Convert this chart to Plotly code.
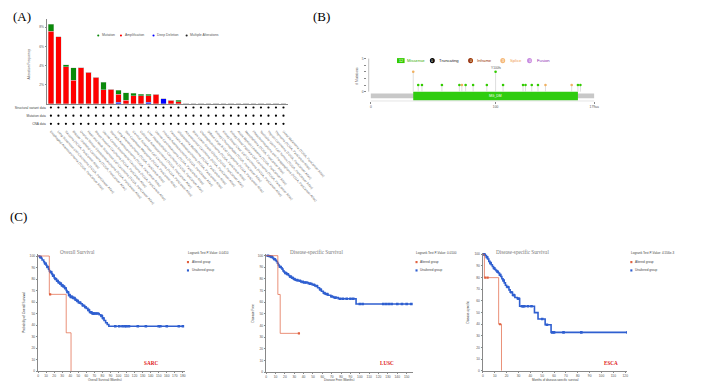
import numpy as np
import plotly.graph_objects as go

W, H = 709, 381
def xd(a, b): return [a / W, b / W]
def yd(top, bot): return [1 - bot / H, 1 - top / H]
def px(x): return x / W
def py(y): return 1 - y / H

# ---------------- Panel A data ----------------
studies = [
    "Esophageal Adenocarcinoma (TCGA, PanCancer Atlas)",
    "Lung Squamous Cell Carcinoma (TCGA, PanCancer Atlas)",
    "Sarcoma (TCGA, PanCancer Atlas)",
    "Bladder Urothelial Carcinoma (TCGA, PanCancer Atlas)",
    "Ovarian Serous Cystadenocarcinoma (TCGA, PanCancer Atlas)",
    "Head and Neck Squamous Cell Carcinoma (TCGA, PanCancer Atlas)",
    "Breast Invasive Carcinoma (TCGA, PanCancer Atlas)",
    "Uterine Corpus Endometrial Carcinoma (TCGA, PanCancer Atlas)",
    "Stomach Adenocarcinoma (TCGA, PanCancer Atlas)",
    "Lung Adenocarcinoma (TCGA, PanCancer Atlas)",
    "Skin Cutaneous Melanoma (TCGA, PanCancer Atlas)",
    "Cervical Squamous Cell Carcinoma (TCGA, PanCancer Atlas)",
    "Colorectal Adenocarcinoma (TCGA, PanCancer Atlas)",
    "Liver Hepatocellular Carcinoma (TCGA, PanCancer Atlas)",
    "Uterine Carcinosarcoma (TCGA, PanCancer Atlas)",
    "Prostate Adenocarcinoma (TCGA, PanCancer Atlas)",
    "Pancreatic Adenocarcinoma (TCGA, PanCancer Atlas)",
    "Glioblastoma Multiforme (TCGA, PanCancer Atlas)",
    "Adrenocortical Carcinoma (TCGA, PanCancer Atlas)",
    "Brain Lower Grade Glioma (TCGA, PanCancer Atlas)",
    "Cholangiocarcinoma (TCGA, PanCancer Atlas)",
    "Diffuse Large B-Cell Lymphoma (TCGA, PanCancer Atlas)",
    "Kidney Chromophobe (TCGA, PanCancer Atlas)",
    "Kidney Renal Clear Cell Carcinoma (TCGA, PanCancer Atlas)",
    "Kidney Renal Papillary Cell Carcinoma (TCGA, PanCancer Atlas)",
    "Acute Myeloid Leukemia (TCGA, PanCancer Atlas)",
    "Mesothelioma (TCGA, PanCancer Atlas)",
    "Pheochromocytoma and Paraganglioma (TCGA, PanCancer Atlas)",
    "Testicular Germ Cell Tumors (TCGA, PanCancer Atlas)",
    "Thyroid Carcinoma (TCGA, PanCancer Atlas)",
    "Thymoma (TCGA, PanCancer Atlas)",
    "Uveal Melanoma (TCGA, PanCancer Atlas)",
]
deep_deletion = [0, 0, 0, 0, 0, 0, 0, 0, 0, 0.2, 0, 0, 0, 0.2, 0, 0.52, 0, 0] + [0] * 14
amplification = [7.59, 7.0, 3.86, 2.48, 3.76, 3.28, 2.76, 1.48, 1.52, 0.83, 0.41, 0.86, 0.83, 0.63, 1.0, 0, 0.38, 0.24] + [0] * 14
mutation = [0.71, 0, 0.24, 1.28, 0, 0, 0, 0.76, 0, 0.38, 0.76, 0.24, 0.17, 0.17, 0, 0, 0, 0.14] + [0] * 14
data_rows = ["Structural variant data", "Mutation data", "CNA data"]

# ---------------- Panel B data ----------------
protein_length = 179
domain_name = "MG_DM"
domain_start, domain_end = 34, 166
mut_pos = [34, 38, 41, 57, 71, 73, 76, 82, 93, 100, 106, 122, 124, 129, 134, 140, 161, 166, 168]
mut_cnt = [3, 1, 1, 1, 1, 1, 1, 1, 1, 3, 1, 1, 1, 1, 1, 1, 1, 1, 1]
mut_type = ["Splice", "Missense", "Missense", "Missense", "Missense", "Splice", "Missense",
            "Missense", "Missense", "Missense", "Missense", "Missense", "Missense", "Missense",
            "Missense", "Splice", "Splice", "Missense", "Missense"]
top_label = "Y100fs"
legend_b = [("12", "Missense"), ("0", "Truncating"), ("0", "Inframe"), ("3", "Splice"), ("0", "Fusion")]

# ---------------- Panel C data ----------------
sarc_unalt_t = [0, 2, 4, 5, 7, 8, 10, 11, 13, 14, 15, 17, 18, 20, 21, 23, 25, 27, 29, 31, 33, 35, 36,
                38, 40, 43, 46, 48, 50, 53, 55, 58, 60, 62, 64, 67, 76, 78, 80, 82, 84, 86, 88]
sarc_unalt_s = [100, 99, 98, 96.5, 95, 93.5, 92, 90.5, 88.5, 87, 86, 84.5, 83, 81, 80, 78.5, 77, 76,
                74.5, 73.5, 72, 70, 68.5, 66, 64.5, 63.5, 62, 61, 59.5, 58.5, 57, 55.5, 54.5, 53, 51,
                50, 49, 48, 46, 44, 42, 40.5, 39]
sarc_unalt_cens = [3, 9, 12, 16, 19, 22, 24, 26, 28, 30, 32, 34, 37, 39, 41, 42, 44, 45, 47, 49, 52,
                   56, 59, 63, 66, 68, 69, 70, 72, 74, 79, 81, 96, 101, 105, 108, 110, 113, 124, 134,
                   150, 152, 160, 175, 180]
sarc_alt_t = [0, 14, 35, 41]
sarc_alt_s = [100, 66.7, 33.3, 0]
sarc_alt_cens = [15]

lusc_unalt_t = [0, 3, 5, 7, 8, 10, 11, 12, 13, 14, 16, 17, 18, 19, 20, 22, 24, 25, 27, 29, 31, 34,
                37, 40, 45, 49, 52, 55, 57, 59, 61, 63, 66, 69, 72, 77, 96]
lusc_unalt_s = [100, 99.5, 99, 98, 97, 96, 95, 93.5, 92, 90.5, 89.5, 88.5, 87, 86, 85, 84, 83, 82,
                81, 80, 79, 78.5, 77.5, 77, 76, 75, 74, 72.5, 71, 69.5, 68, 67, 66, 65, 64, 63, 58.5]
lusc_unalt_cens = [2, 4, 6, 9, 15, 21, 23, 26, 28, 30, 33, 36, 39, 41, 43, 47, 51, 54, 58, 62, 65,
                   70, 74, 79, 82, 86, 90, 93, 100, 103, 125, 128, 131, 134, 140, 145, 150, 155]
lusc_alt_t = [0, 12.5, 15]
lusc_alt_s = [100, 66.7, 33.3]
lusc_alt_cens = [35]

esca_unalt_t = [0, 2, 3, 4, 5, 6, 7, 8, 9, 10, 11, 12, 13, 14, 15, 16, 17, 18, 19, 20, 22, 23, 25,
                27, 29, 31, 43.5, 46.5, 52.5, 57.5]
esca_unalt_s = [100, 99, 97.5, 96, 94, 92.5, 91, 89.5, 88, 87, 86, 85, 84, 82.5, 81, 79, 77.5, 75.5,
                73.5, 72, 69.5, 67.5, 65, 63, 62, 55.5, 50, 44.5, 39.5, 33]
esca_unalt_cens = [1, 3.5, 6.5, 9.5, 12.5, 14.5, 17.5, 21, 24, 26, 30, 33, 34, 35, 38, 41, 50, 54,
                   58.5, 60, 68, 83, 122]
esca_alt_t = [0, 1.3, 13.3, 15.7]
esca_alt_s = [100, 80, 40, 0]
esca_alt_cens = [2, 4, 14.5]

# ---------------- figure ----------------
GREEN, RED, BLUE = "#0a8a0a", "#ff0000", "#0000ff"
KM_BLUE, KM_RED = "#2f5fd0", "#e0603e"
TICK = dict(size=3.3, color="#555", family="Arial")
fig = go.Figure()

idx = list(range(len(studies)))
for vals, col in [(deep_deletion, BLUE), (amplification, RED), (mutation, GREEN)]:
    fig.add_trace(go.Bar(x=idx, y=vals, width=0.76, marker=dict(color=col, line=dict(color="#d0d0d0", width=0.4)),
                         xaxis="x", yaxis="y"))
for r in range(len(data_rows)):
    fig.add_trace(go.Scatter(x=idx, y=[r + 1] * len(idx), mode="markers",
                             marker=dict(color="black", size=2.2), xaxis="x2", yaxis="y2"))

# Panel B traces
stem_x, stem_y = [], []
for p, c in zip(mut_pos, mut_cnt):
    stem_x += [p, p, None]
    stem_y += [0, c, None]
fig.add_trace(go.Scatter(x=stem_x, y=stem_y, mode="lines", line=dict(color="#c8c8c8", width=0.6),
                         xaxis="x3", yaxis="y3"))
tcol = {"Missense": "#33cc00", "Splice": "#f0b060", "Truncating": "#000000", "Inframe": "#993404", "Fusion": "#c080e0"}
fig.add_trace(go.Scatter(x=mut_pos, y=mut_cnt, mode="markers",
                         marker=dict(color=[tcol[t] for t in mut_type], size=2.6),
                         xaxis="x3", yaxis="y3"))

def step_val(ts, ss, t):
    i = np.searchsorted(np.array(ts), t, side="right") - 1
    return ss[i]

def km(ts, ss, cens, tend, color, width, ax, msize, sym):
    xs = list(ts) + [tend]
    ys = list(ss) + [ss[-1]]
    fig.add_trace(go.Scatter(x=xs, y=ys, mode="lines", line=dict(color=color, width=width, shape="hv"),
                             xaxis="x" + ax, yaxis="y" + ax))
    fig.add_trace(go.Scatter(x=cens, y=[step_val(ts, ss, c) for c in cens], mode="markers",
                             marker=dict(color=color, size=msize, symbol=sym),
                             xaxis="x" + ax, yaxis="y" + ax))

km(sarc_unalt_t, sarc_unalt_s, sarc_unalt_cens, 180, KM_BLUE, 1.6, "4", 2.6, "square")
km(sarc_alt_t, sarc_alt_s, sarc_alt_cens, 41, KM_RED, 0.7, "4", 2.2, "square")
km(lusc_unalt_t, lusc_unalt_s, lusc_unalt_cens, 156, KM_BLUE, 1.6, "5", 2.6, "square")
km(lusc_alt_t, lusc_alt_s, lusc_alt_cens, 35, KM_RED, 0.7, "5", 2.2, "square")
km(esca_unalt_t, esca_unalt_s, esca_unalt_cens, 122, KM_BLUE, 1.6, "6", 2.6, "square")
km(esca_alt_t, esca_alt_s, esca_alt_cens, 15.7, KM_RED, 0.7, "6", 2.2, "square")

AX = dict(showgrid=False, zeroline=False, tickfont=TICK, linecolor="#888", linewidth=0.6,
          tickcolor="#888", ticklen=1.5, tickwidth=0.5)

layout = dict(
    width=W, height=H, margin=dict(l=0, r=0, t=0, b=0), showlegend=False,
    paper_bgcolor="white", plot_bgcolor="rgba(0,0,0,0)", barmode="stack",
    font=dict(family="Arial"),
    xaxis=dict(AX, domain=xd(40, 295), range=[-0.54, 31.63], anchor="y", showticklabels=False,
               showline=True, ticks=""),
    yaxis=dict(AX, domain=yd(10, 95.7), range=[0, 8.86], anchor="x", tickvals=[2, 4, 6, 8],
               ticktext=["2%", "4%", "6%", "8%"], showline=True, ticks="outside"),
    xaxis2=dict(AX, domain=xd(40, 295), range=[-0.54, 31.63], anchor="y2", tickvals=idx, ticktext=studies,
                tickangle=48, showline=False, ticks="", tickfont=dict(size=3.2, color="#666", family="Arial")),
    yaxis2=dict(AX, domain=yd(95, 120), range=[3.52, 0.476], anchor="x2", tickvals=[1, 2, 3],
                ticktext=data_rows, showline=False, ticks="", tickfont=dict(size=3.2, color="#444", family="Arial")),
    xaxis3=dict(AX, domain=xd(378, 625), range=[-3.26, 184.1], anchor="y3", tickvals=[0, 100, 179],
                ticktext=["0", "100", "179aa"], showline=False, ticks="outside"),
    yaxis3=dict(AX, domain=yd(45, 93), range=[-1.46, 5.75], anchor="x3", tickvals=[0, 1, 2, 3, 4, 5],
                ticktext=["0", "", "", "", "", "5"], showline=False, ticks="outside"),
    xaxis4=dict(AX, domain=xd(30.7, 186), range=[0, 182.7], anchor="y4", tickvals=list(range(0, 181, 10)),
                showline=True, ticks="outside"),
    yaxis4=dict(AX, domain=yd(247, 365), range=[0, 101.7], anchor="x4", tickvals=list(range(0, 101, 10)),
                ticksuffix="%", showline=True, ticks="outside"),
    xaxis5=dict(AX, domain=xd(271.7, 427), range=[0, 156.9], anchor="y5", tickvals=list(range(0, 151, 10)),
                showline=True, ticks="outside"),
    yaxis5=dict(AX, domain=yd(247, 366), range=[0, 101.4], anchor="x5", tickvals=list(range(0, 101, 10)),
                ticksuffix="%", showline=True, ticks="outside"),
    xaxis6=dict(AX, domain=xd(500.7, 653), range=[0, 121.5], anchor="y6", tickvals=list(range(0, 121, 10)),
                showline=True, ticks="outside"),
    yaxis6=dict(AX, domain=yd(246, 364.7), range=[0, 101.1], anchor="x6", tickvals=list(range(0, 101, 10)),
                ticksuffix="%", showline=True, ticks="outside"),
)
fig.update_layout(**layout)

ann = []
shapes = []
def text(x, y, t, size, color="#555", xanchor="center", family="Arial", angle=0, **kw):
    ann.append(dict(x=px(x), y=py(y), xref="paper", yref="paper", text=t, showarrow=False,
                    xanchor=xanchor, yanchor="middle", textangle=angle, borderpad=0,
                    font=dict(size=size, color=color, family=family), **kw))

SERIF = "Liberation Serif"
text(3, 8, "(A)", 13, "black", "left", SERIF)
text(320, 8, "(B)", 13, "black", "left", SERIF)
text(0, 209, "(C)", 13, "black", "left", SERIF)

# Panel A extras
text(21, 55, "Alteration Frequency", 3.3, "#555", angle=-90)
for cx, col, lab in [(94.3, GREEN, "Mutation"), (118.3, RED, "Amplification"),
                     (152.7, BLUE, "Deep Deletion"), (187.7, "#222", "Multiple Alterations")]:
    shapes.append(dict(type="circle", xref="paper", yref="paper", x0=px(cx - 1.1), x1=px(cx + 1.1),
                       y0=py(26.7 + 1.1), y1=py(26.7 - 1.1), fillcolor=col, line=dict(width=0)))
    text(cx + 3, 26.7, lab, 3.4, "#555", "left")

# Panel B extras
text(368, 67, "# Mutations", 3.4, "#555", angle=-90)
shapes.append(dict(type="line", xref="x3", yref="y3", x0=-1.7, x1=-1.7, y0=0, y1=5,
                   line=dict(color="#999", width=0.6)))
shapes.append(dict(type="line", xref="x3", yref="y3", x0=0, x1=protein_length, y0=-1.46, y1=-1.46,
                   line=dict(color="#999", width=0.6)))
shapes.append(dict(type="rect", xref="x3", yref="y3", x0=0, x1=protein_length, y0=-1.0, y1=-0.3,
                   fillcolor="#c8c8c8", line=dict(width=0), layer="below"))
shapes.append(dict(type="rect", xref="x3", yref="y3", x0=domain_start, x1=domain_end, y0=-1.32, y1=0.0,
                   fillcolor="#2fcc10", line=dict(width=0), layer="below"))
ann.append(dict(x=(domain_start + domain_end) / 2, y=-0.66, xref="x3", yref="y3", text=domain_name,
                showarrow=False, font=dict(size=3.4, color="white", family="Arial")))
ann.append(dict(x=100, y=3.55, xref="x3", yref="y3", text=top_label, showarrow=False,
                font=dict(size=3.2, color="#555", family="Arial")))
b_leg_pos = [(414, 420), (447.3, 453), (487.7, 493), (521.7, 528), (550, 557)]
b_leg_col = ["#33cc00", "#000000", "#993404", "#f5b878", "#c88ae0"]
b_txt_col = ["#33aa00", "#222222", "#993404", "#f0a050", "#8a2ab0"]
for (num, lab), (cx, tx), c, tc in zip(legend_b, b_leg_pos, b_leg_col, b_txt_col):
    if lab == "Missense":
        shapes.append(dict(type="rect", xref="paper", yref="paper", x0=px(cx - 4), x1=px(cx + 4),
                           y0=py(54.5), y1=py(49.5), fillcolor=c, line=dict(width=0)))
    else:
        shapes.append(dict(type="circle", xref="paper", yref="paper", x0=px(cx - 2.6), x1=px(cx + 2.6),
                           y0=py(54.6), y1=py(49.4), fillcolor=c, line=dict(width=0)))
    text(cx, 52, num, 3.6, "white")
    text(tx, 52, lab, 4.2, tc, "left")

# Panel C extras
legx_val = {"SARC": "0.0410", "LUSC": "0.0100", "ESCA": "4.556e-3"}
def km_extras(title, tx, legx, ytitle, ytx, ytcy, xtitle, xtx, tag, tagx):
    text(tx, 245, title, 5.2, "#777", family=SERIF)
    text(legx, 245.7, "Logrank Test P-Value: " + legx_val[tag], 3.1, "#444", "left")
    shapes.append(dict(type="rect", xref="paper", yref="paper", x0=px(legx), x1=px(legx + 2.2),
                       y0=py(256.2), y1=py(254), fillcolor=KM_RED, line=dict(width=0)))
    text(legx + 4, 255, "Altered group", 3.1, "#444", "left")
    shapes.append(dict(type="rect", xref="paper", yref="paper", x0=px(legx), x1=px(legx + 2.2),
                       y0=py(264.6), y1=py(262.4), fillcolor=KM_BLUE, line=dict(width=0)))
    text(legx + 4, 263.5, "Unaltered group", 3.1, "#444", "left")
    text(ytx, ytcy, ytitle, 3.1, "#444", angle=-90)
    text(xtx, 374.3, xtitle, 3.0, "#444")
    text(tagx, 356.5, "<b>" + tag + "</b>", 5.2, "#e02020", family=SERIF)

km_extras("Overall Survival", 72, 188, "Probability of Overall Survival", 15, 306, "Overall Survival (Months)",
          101.7, "SARC", 150)
km_extras("Disease-specific Survival", 325, 429.5, "Disease Free", 257.7, 306, "Disease Free (Months)",
          349, "LUSC", 399.5)
km_extras("Disease-specific Survival", 543, 656.5, "Disease-specific", 485, 306,
          "Months of disease-specific survival", 577, "ESCA", 636)

fig.update_layout(annotations=ann, shapes=shapes)
fig.write_html("out.html")
